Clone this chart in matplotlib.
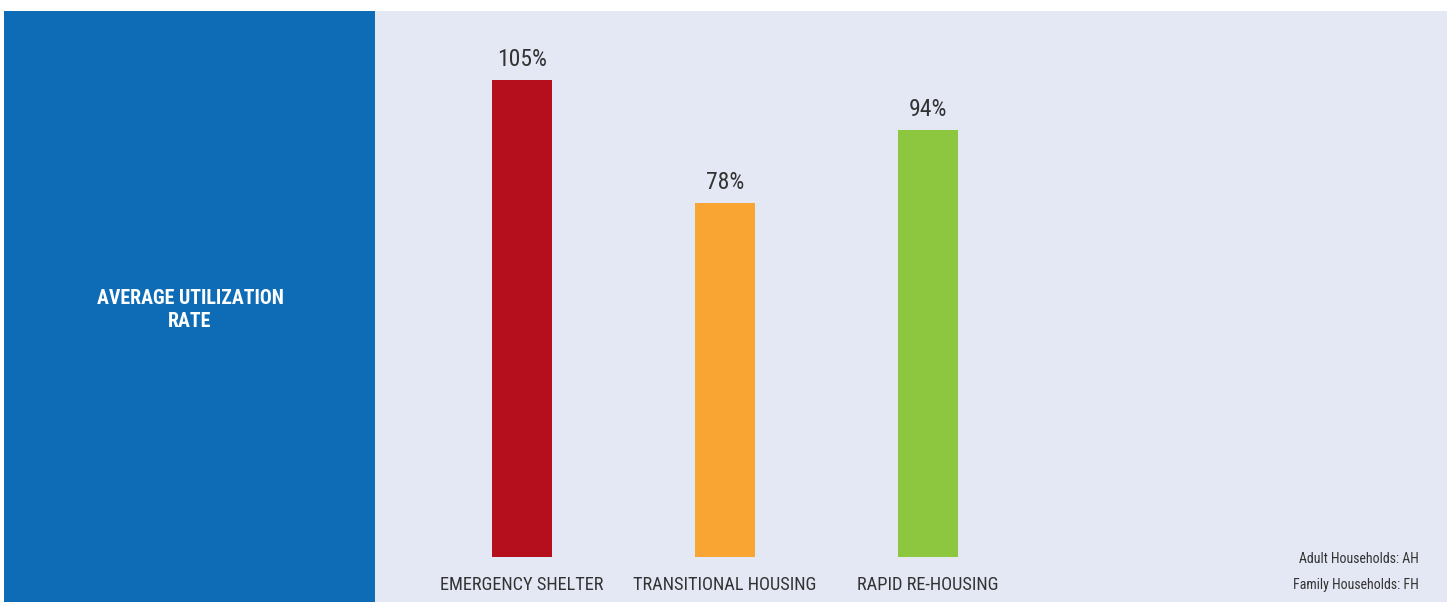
import matplotlib.pyplot as plt
from matplotlib.patches import Rectangle

plt.rcParams['font.family'] = ['Roboto Condensed', 'Roboto', 'DejaVu Sans']

# data
categories = ['EMERGENCY SHELTER', 'TRANSITIONAL HOUSING', 'RAPID RE-HOUSING']
rates = [105, 78, 94]
bar_colors = ['#B50E1D', '#F9A533', '#8DC63F']
panel_title = 'AVERAGE UTILIZATION\nRATE'
notes = ['Adult Households: AH', 'Family Households: FH']

W, H = 1447, 602
fig = plt.figure(figsize=(W / 100, H / 100), dpi=100)
fig.patch.set_facecolor('white')

# left blue panel
top = (H - 11) / H
fig.patches.append(Rectangle((4 / W, 0), (375 - 4) / W, top, transform=fig.transFigure,
                             facecolor='#0D6CB5', edgecolor='none', zorder=0))
fig.text(190 / W, (H - 310) / H, panel_title, color='white', fontsize=14.3,
         fontweight='bold', ha='center', va='center', linespacing=1.3)

# bar panel
ax = fig.add_axes([375 / W, 0, (W - 375) / W, top])
ax.set_facecolor('#E4E8F4')
px = 477 / 105  # pixels per percent
x = list(range(len(categories)))
ax.bar(x, rates, width=60 / 203, color=bar_colors)
ax.set_xlim((375 - 522) / 203, (W - 522) / 203)
ax.set_ylim(-(H - 557) / px, 105 + (80 - 11) / px)

for xi, v in zip(x, rates):
    ax.text(xi, v + 20 / px, f'{v}%', ha='center', va='center', fontsize=17, color='#333333')
for xi, c in zip(x, categories):
    ax.text(xi, -(585 - 557) / px, c, ha='center', va='center', fontsize=13.2, color='#333333')

for i, n in enumerate(notes):
    fig.text(1419 / W, (H - 559 - 26 * i) / H, n, ha='right', va='center',
             fontsize=10, color='#333333')

for s in ax.spines.values():
    s.set_visible(False)
ax.set_xticks([])
ax.set_yticks([])

fig.savefig('out.png', dpi=100)
